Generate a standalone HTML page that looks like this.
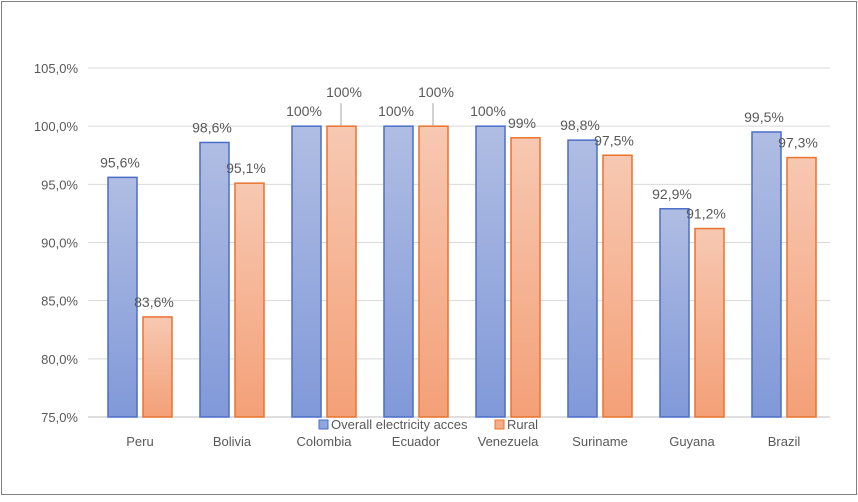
<!DOCTYPE html>
<html><head><meta charset="utf-8"><style>
body{margin:0;background:#fff;font-family:"Liberation Sans",sans-serif;}
svg text{font-family:"Liberation Sans",sans-serif;}
</style></head><body>
<svg width="858" height="497" viewBox="0 0 858 497">
<defs>
<linearGradient id="gb" x1="0" y1="0" x2="0" y2="1"><stop offset="0" stop-color="#b0bde3"/><stop offset="1" stop-color="#8199d9"/></linearGradient>
<linearGradient id="go" x1="0" y1="0" x2="0" y2="1"><stop offset="0" stop-color="#f7c8b2"/><stop offset="1" stop-color="#f4a077"/></linearGradient>
</defs>
<rect x="1.5" y="1.5" width="855" height="493" fill="#fff" stroke="#7f7f7f"/>
<g id="grid"></g><g id="bars"></g><g id="labels"></g>
<g>
<rect x="319" y="420" width="9" height="9" fill="#8fa5dc" stroke="#4a6fc8"/>
<text x="331" y="429" font-size="13" fill="#595959">Overall electricity acces</text>
<rect x="495" y="420" width="9" height="9" fill="#f5ae8c" stroke="#e8732f"/>
<text x="507" y="429" font-size="13" fill="#595959">Rural</text>
</g>
</svg>
<script>
const categories=["Peru","Bolivia","Colombia","Ecuador","Venezuela","Suriname","Guyana","Brazil"];
const overall=[95.6,98.6,100,100,100,98.8,92.9,99.5];
const rural=[83.6,95.1,100,100,99,97.5,91.2,97.3];
const overallLabels=["95,6%","98,6%","100%","100%","100%","98,8%","92,9%","99,5%"];
const ruralLabels=["83,6%","95,1%","100%","100%","99%","97,5%","91,2%","97,3%"];
const yTicks=[75,80,85,90,95,100,105];
const NS="http://www.w3.org/2000/svg";
const x0=94,step=92,yMin=75,yMax=105,yBot=417,yTop=68;
function y(v){return yBot-(v-yMin)/(yMax-yMin)*(yBot-yTop);}
function cx(i){return x0+step*i+step/2;}
function mk(tag,attrs,parent){const e=document.createElementNS(NS,tag);for(const k in attrs)e.setAttribute(k,attrs[k]);parent.appendChild(e);return e;}
const grid=document.getElementById('grid'),bars=document.getElementById('bars'),labels=document.getElementById('labels');
yTicks.forEach(t=>{
 const l=mk('line',{x1:88,x2:830,y1:y(t),y2:y(t),stroke:t===75?'#bfbfbf':'#d9d9d9'},grid);
 
 
 const tx=mk('text',{x:78,y:y(t)+5,'text-anchor':'end','font-size':13,fill:'#595959'},grid);
 tx.textContent=t.toFixed(1).replace('.',',')+'%';
 
 
});
categories.forEach((c,i)=>{
 const c0=cx(i);
 const b=mk('rect',{x:c0-32,y:y(overall[i]),width:29,height:yBot-y(overall[i]),fill:'url(#gb)',stroke:'#4a6fc8','stroke-width':1.5},bars);
 
 
 const r=mk('rect',{x:c0+3,y:y(rural[i]),width:29,height:yBot-y(rural[i]),fill:'url(#go)',stroke:'#e8732f','stroke-width':1.5},bars);
 
 
 const t1=mk('text',{x:c0-20,y:y(overall[i])-10,'text-anchor':'middle','font-size':14,fill:'#595959'},labels);
 t1.textContent=overallLabels[i];
 
 
 let ly=y(rural[i])-10;
 if(rural[i]>=100){ly=y(rural[i])-29;
  const ln=mk('line',{x1:c0+17,x2:c0+17,y1:y(rural[i])-23,y2:y(rural[i]),stroke:'#a6a6a6'},labels);
  
  }
 const t2=mk('text',{x:c0+(rural[i]>=100?20:14),y:ly,'text-anchor':'middle','font-size':14,fill:'#595959'},labels);
 t2.textContent=ruralLabels[i];
 
 
 const ct=mk('text',{x:c0,y:446,'text-anchor':'middle','font-size':13,fill:'#595959'},labels);
 ct.textContent=c;
 
 
});
</script>
</body></html>
